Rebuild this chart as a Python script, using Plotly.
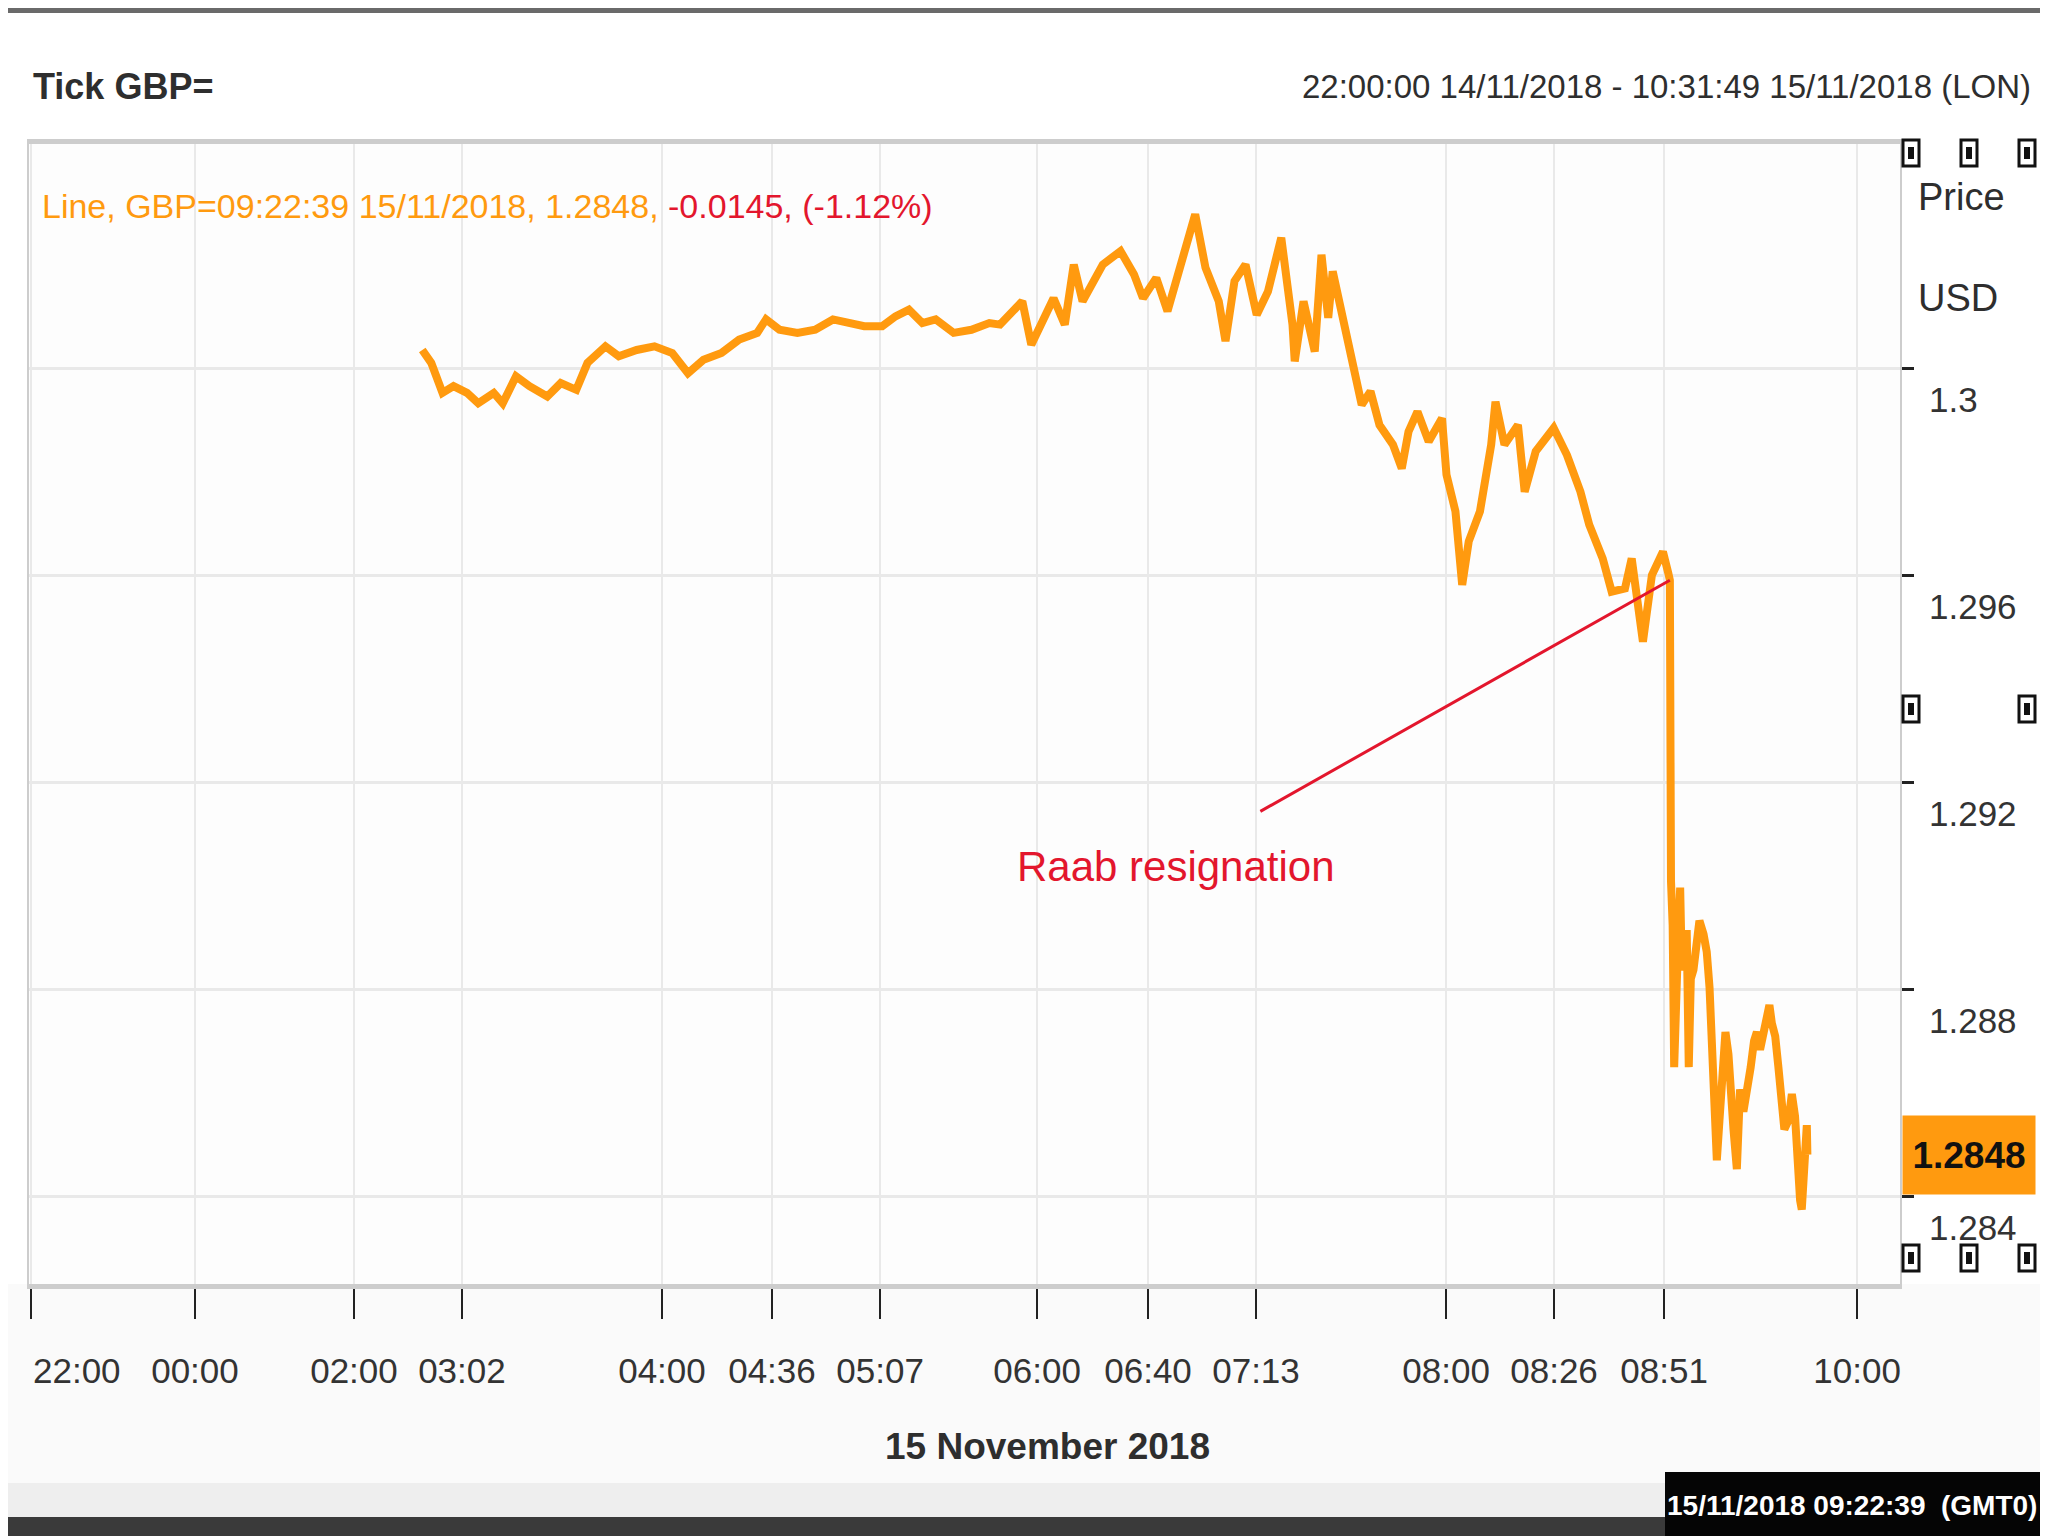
import plotly.graph_objects as go

# Eikon tick chart: x is the compressed tick-time scale (0..1000 across the plot)
tick_pos = [1.1, 88.7, 173.7, 231.4, 338.3, 397.1, 454.9, 538.8, 598.1, 655.8,
            757.4, 815.1, 873.9, 977.1]
tick_labels = ["22:00", "00:00", "02:00", "03:02", "04:00", "04:36", "05:07",
               "06:00", "06:40", "07:13", "08:00", "08:26", "08:51", "10:00"]

price_ticks = [1.284, 1.288, 1.292, 1.296, 1.3]
price_tick_labels = ["1.284", "1.288", "1.292", "1.296", "1.3"]

x_pos = [210.2, 215.0, 221.0, 226.9, 234.1, 240.1, 248.4, 253.2, 260.3, 267.5,
         277.0, 284.2, 292.5, 298.5, 308.1, 315.2, 324.8, 334.3, 343.8, 352.2,
         360.5, 370.1, 379.6, 389.2, 393.9, 401.1, 410.7, 420.2, 429.7, 436.9,
         446.4, 456.0, 463.1, 470.3, 477.5, 484.6, 494.2, 503.7, 513.3,
         519.0, 530.9, 535.7, 547.6, 553.6, 558.4, 563.1, 573.9, 583.4, 590.6,
         595.4, 602.5, 608.5, 616.8, 623.3, 628.8, 635.9, 639.5, 644.3, 650.2,
         656.2, 662.2, 669.3, 675.3, 676.5, 681.2, 687.2, 690.8, 694.4, 696.8,
         702.7, 707.5, 712.3, 717.0, 721.8, 729.0, 733.7, 737.3, 742.1, 748.1,
         755.2, 757.6, 762.4, 766.0, 769.5, 775.5, 781.5, 783.8, 788.6, 795.8,
         799.4, 805.3, 814.9, 822.0, 829.2, 833.9, 841.1, 845.9, 853.0, 856.6,
         862.6, 867.4, 873.3, 876.0, 877.0,
         877.6, 878.5, 879.3, 880.0, 881.0, 882.5, 883.4, 884.6, 886.0, 887.1,
         888.2, 889.6, 891.4, 892.8, 895.0, 896.7, 898.2, 899.4, 900.8, 902.1,
         903.5, 905.3, 906.7, 908.3, 909.7, 911.0, 912.8, 914.5, 916.3, 918.1,
         920.2, 922.0, 923.5, 925.2, 927.0, 928.8, 930.2, 931.5, 933.3, 935.0,
         936.8, 938.2, 940.4, 942.2, 943.9, 945.2, 946.6, 947.5, 948.8, 950.2,
         950.5]
price = [1.30035, 1.30010, 1.29952, 1.29965, 1.29952, 1.29932, 1.29952, 1.29932, 1.29984, 1.29965,
         1.29945, 1.29971, 1.29958, 1.30010, 1.30042, 1.30023, 1.30035, 1.30042, 1.30029, 1.29990,
         1.30016, 1.30029, 1.30055, 1.30068, 1.30094, 1.30074, 1.30068, 1.30074, 1.30094, 1.30087,
         1.30081, 1.30081, 1.30100, 1.30113, 1.30087, 1.30094, 1.30068, 1.30074, 1.30087,
         1.30084, 1.30129, 1.30045, 1.30135, 1.30084, 1.30200, 1.30129, 1.30200, 1.30226, 1.30181,
         1.30135, 1.30174, 1.30110, 1.30213, 1.30297, 1.30194, 1.30129, 1.30052, 1.30168, 1.30200,
         1.30103, 1.30148, 1.30252, 1.30084, 1.30013, 1.30129, 1.30032, 1.30219, 1.30097, 1.30187,
         1.30084, 1.30006, 1.29929, 1.29955, 1.29890, 1.29852, 1.29806, 1.29877, 1.29916, 1.29858,
         1.29903, 1.29794, 1.29723, 1.29581, 1.29665, 1.29723, 1.29852, 1.29935, 1.29852, 1.29890,
         1.29761, 1.29839, 1.29884, 1.29832, 1.29761, 1.29697, 1.29632, 1.29568, 1.29574, 1.29632,
         1.29471, 1.29600, 1.29645, 1.29606, 1.29590,
         1.29009, 1.28923, 1.28649, 1.28803, 1.28846, 1.28996, 1.28837, 1.28854, 1.28914, 1.28649,
         1.28820, 1.28837, 1.28914, 1.28932, 1.28906, 1.28872, 1.28803, 1.28692, 1.28589, 1.28469,
         1.28546, 1.28632, 1.28717, 1.28674, 1.28580, 1.28529, 1.28452, 1.28606, 1.28563, 1.28597,
         1.28649, 1.28700, 1.28717, 1.28683, 1.28717, 1.28752, 1.28769, 1.28734, 1.28709, 1.28649,
         1.28580, 1.28529, 1.28546, 1.28597, 1.28554, 1.28443, 1.28392, 1.28374, 1.28443, 1.28537,
         1.28480]

event_idx = x_pos.index(877.0)   # last tick before the Raab resignation drop

ORANGE = "#ff9a0f"
RED = "#e3162d"
DARK = "#2e2e2e"
FONT = "Liberation Sans, Arial, sans-serif"

# plot box in reference pixels; the page body adds an 8px margin, so the
# figure is drawn 8px smaller and its left/top margins shrink by the same amount
L, R, T, B = 29, 1900, 144, 1284
BODY = 8


def px(X):
    return (X - L) / (R - L)


def py(Y):
    return (B - Y) / (B - T)


# the first label sits right of its tick, so it is drawn as an annotation
shown_ticks = [""] + tick_labels[1:]

fig = go.Figure()
fig.add_trace(go.Scatter(x=x_pos, y=price, mode="lines",
                         line=dict(color=ORANGE, width=8),
                         hoverinfo="skip", showlegend=False))

shapes = [
    # lower panel background and band
    dict(type="rect", xref="paper", yref="paper", x0=px(0), x1=px(2048),
         y0=py(1483), y1=py(B), fillcolor="#fafafa", line_width=0, layer="below"),
    dict(type="rect", xref="paper", yref="paper", x0=px(0), x1=px(2048),
         y0=py(1517), y1=py(1483), fillcolor="#eeeeee", line_width=0, layer="below"),
    # window frame
    dict(type="rect", xref="paper", yref="paper", x0=px(0), x1=px(2048),
         y0=py(13), y1=py(0), fillcolor="#6a6a6a", line_width=0),
    dict(type="rect", xref="paper", yref="paper", x0=px(2040), x1=px(2048),
         y0=py(1536), y1=py(0), fillcolor="#3a3a3a", line_width=0),
    dict(type="rect", xref="paper", yref="paper", x0=px(0), x1=px(2048),
         y0=py(1536), y1=py(1517), fillcolor="#3a3a3a", line_width=0),
    # time stamp box
    dict(type="rect", xref="paper", yref="paper", x0=px(1665), x1=px(2041),
         y0=py(1536), y1=py(1472), fillcolor="#050505", line_width=0),
]

# resize handles of the chart panel
for hx, hy in [(1911, 153), (1969, 153), (2027, 153), (1911, 709), (2027, 709),
               (1911, 1258), (1969, 1258), (2027, 1258)]:
    shapes.append(dict(type="rect", xref="paper", yref="paper",
                       x0=px(hx - 8), x1=px(hx + 8), y0=py(hy + 13), y1=py(hy - 13),
                       fillcolor="white", line=dict(color="#111111", width=3)))
    shapes.append(dict(type="rect", xref="paper", yref="paper",
                       x0=px(hx - 3), x1=px(hx + 3), y0=py(hy + 6), y1=py(hy - 6),
                       fillcolor="#111111", line_width=0))

annotations = [
    dict(text="<b>Tick GBP=</b>", xref="paper", yref="paper", x=px(31), y=py(86),
         xanchor="left", yanchor="middle", showarrow=False,
         font=dict(size=36, color=DARK)),
    dict(text="22:00:00 14/11/2018 - 10:31:49 15/11/2018 (LON)", xref="paper", yref="paper",
         x=px(2033), y=py(86), xanchor="right", yanchor="middle", showarrow=False,
         font=dict(size=33, color=DARK)),
    dict(text="Line, GBP=09:22:39 15/11/2018, %.4f, <span style='color:%s'>-0.0145, (-1.12%%)</span>"
              % (price[-1], RED),
         xref="paper", yref="paper", x=px(40), y=py(206), xanchor="left", yanchor="middle",
         showarrow=False, font=dict(size=34, color=ORANGE)),
    dict(text="Price", xref="paper", yref="paper", x=px(1916), y=py(197),
         xanchor="left", yanchor="middle", showarrow=False, font=dict(size=38, color=DARK)),
    dict(text="USD", xref="paper", yref="paper", x=px(1916), y=py(298),
         xanchor="left", yanchor="middle", showarrow=False, font=dict(size=38, color=DARK)),
    dict(text=tick_labels[0], xref="x", yref="paper", x=tick_pos[0], y=py(1370),
         xanchor="left", yanchor="middle", showarrow=False, font=dict(size=35, color="#333333")),
    dict(text="<b>15 November 2018</b>", xref="paper", yref="paper", x=px(1047), y=py(1447),
         xanchor="center", yanchor="middle", showarrow=False, font=dict(size=37, color=DARK)),
    dict(text="<b>15/11/2018 09:22:39  (GMT0)</b>", xref="paper", yref="paper",
         x=px(1852), y=py(1505), xanchor="center", yanchor="middle", showarrow=False,
         font=dict(size=28, color="white")),
    # last price flag on the axis
    dict(text="<b>%.4f</b>" % price[-1], xref="paper", yref="y", x=px(1902), y=price[-1],
         xanchor="left", yanchor="middle", showarrow=False, bgcolor=ORANGE,
         width=132, height=78, borderpad=0, font=dict(size=37, color="#111111")),
    # event note
    dict(text="Raab resignation", xref="paper", yref="paper", x=px(1176), y=py(866),
         xanchor="center", yanchor="middle", showarrow=False, font=dict(size=42, color=RED)),
    dict(text=" ", x=x_pos[event_idx], y=price[event_idx], xref="x", yref="y",
         showarrow=True, arrowhead=0, arrowwidth=3, arrowcolor=RED,
         ax=-411, ay=232, font=dict(size=1)),
]

fig.update_layout(
    width=2048 - BODY, height=1536 - BODY,
    margin=dict(l=L - BODY, r=2048 - R, t=T - BODY, b=1536 - B),
    paper_bgcolor="white", plot_bgcolor="#fdfdfd",
    font=dict(family=FONT, size=34, color="#333333"),
    shapes=shapes, annotations=annotations,
    xaxis=dict(range=[0, 1000], tickvals=tick_pos, ticktext=shown_ticks, tickangle=0,
               automargin=False,
               showgrid=True, gridcolor="#e9e9e9", gridwidth=2, zeroline=False,
               showline=True, mirror=True, linecolor="#cdcdcd", linewidth=5,
               ticks="outside", ticklen=30, tickwidth=2, tickcolor="#222222",
               ticklabelstandoff=22, tickfont=dict(size=35, color="#333333")),
    yaxis=dict(range=[1.2823, 1.30433], side="right", tickvals=price_ticks,
               ticktext=price_tick_labels, showgrid=True, gridcolor="#e9e9e9",
               gridwidth=3, zeroline=False, showline=True, mirror=True, automargin=False,
               linecolor="#cdcdcd", linewidth=2, ticks="outside", ticklen=12,
               tickwidth=3, tickcolor="#222222", ticklabelshift=32,
               ticklabelstandoff=8, tickfont=dict(size=35, color="#333333")),
)

fig.write_html("out.html")
